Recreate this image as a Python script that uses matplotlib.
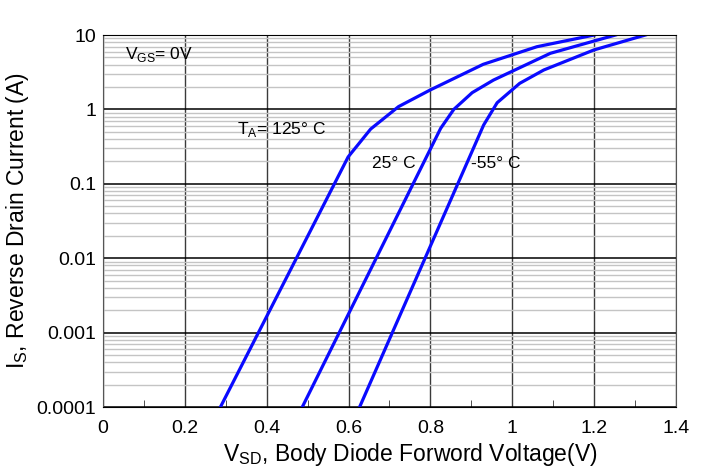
import numpy as np
import matplotlib
matplotlib.use('Agg')
import matplotlib.pyplot as plt
from matplotlib.ticker import FixedLocator, NullFormatter, LogLocator

plt.rcParams['font.family'] = ['Liberation Sans', 'DejaVu Sans']
plt.rcParams['mathtext.fontset'] = 'custom'
plt.rcParams['mathtext.rm'] = 'Liberation Sans'

# curve data
v_125 = [0.287, 0.599, 0.654, 0.722, 0.799, 0.929, 1.060, 1.200]
i_125 = [1e-4, 0.23, 0.545, 1.09, 1.82, 4.04, 6.96, 10.0]

v_25 = [0.487, 0.825, 0.857, 0.902, 0.954, 1.093, 1.252]
i_25 = [1e-4, 0.557, 1.0, 1.68, 2.48, 5.68, 10.0]

v_m55 = [0.627, 0.930, 0.963, 1.018, 1.077, 1.199, 1.325]
i_m55 = [1e-4, 0.617, 1.23, 2.24, 3.39, 6.29, 10.0]

x_ticks = [0, 0.2, 0.4, 0.6, 0.8, 1.0, 1.2, 1.4]
x_labels = ['0', '0.2', '0.4', '0.6', '0.8', '1', '1.2', '1.4']
y_ticks = [1e-4, 1e-3, 1e-2, 1e-1, 1, 10]
y_labels = ['0.0001', '0.001', '0.01', '0.1', '1', '10']

fig = plt.figure(figsize=(7.15, 4.72), dpi=100)
ax = fig.add_axes([0.144, 0.1377, 0.8015, 0.7881])

ax.set_yscale('log')
ax.set_xlim(0, 1.4)
ax.set_ylim(1e-4, 10)

# grid
ax.yaxis.set_minor_locator(LogLocator(base=10, subs=np.arange(2, 10)))
ax.yaxis.set_minor_formatter(NullFormatter())
ax.grid(which='minor', axis='y', color='#c4c4c4', lw=1.0)
ax.grid(which='major', axis='y', color='black', lw=1.1)
ax.grid(which='major', axis='x', color='#3a3a3a', lw=1.0)
ax.set_axisbelow(True)

ax.plot(v_125, i_125, color='#0a0aff', lw=2.3)
ax.plot(v_25, i_25, color='#0a0aff', lw=2.3)
ax.plot(v_m55, i_m55, color='#0a0aff', lw=2.3)

ax.set_xticks(x_ticks)
ax.set_xticklabels(x_labels)
ax.set_yticks(y_ticks)
ax.set_yticklabels(y_labels)
ax.xaxis.set_minor_locator(FixedLocator(np.arange(0.1, 1.4, 0.2)))
ax.tick_params(which='major', length=0, labelsize=14)
ax.tick_params(axis='x', which='major', pad=9)
ax.tick_params(axis='y', which='major', pad=5)
ax.tick_params(axis='x', which='minor', direction='in', length=5, color='#333333')
ax.tick_params(axis='y', which='minor', length=0)

for s in ax.spines.values():
    s.set_color('#555555')
ax.spines['top'].set_color('black')
ax.spines['bottom'].set_color('black')

ax.set_xlabel(r'V$_{\mathregular{SD}}$, Body Diode Forword Voltage(V)', fontsize=16.5, labelpad=3, x=0.537)
ax.set_ylabel(r'I$_{\mathregular{S}}$, Reverse Drain Current (A)', fontsize=16.5, labelpad=4)

ax.text(0.055, 5.4, r'V$_{\mathregular{GS}}$= 0V', fontsize=12.5, va='center')
ax.text(0.328, 0.54, r'T$_{\mathregular{A}}$= 125° C', fontsize=12.5, va='center')
ax.text(0.657, 0.19, '25° C', fontsize=12.5, va='center')
ax.text(0.90, 0.19, '-55° C', fontsize=12.5, va='center')

fig.savefig('out.png', dpi=100)
